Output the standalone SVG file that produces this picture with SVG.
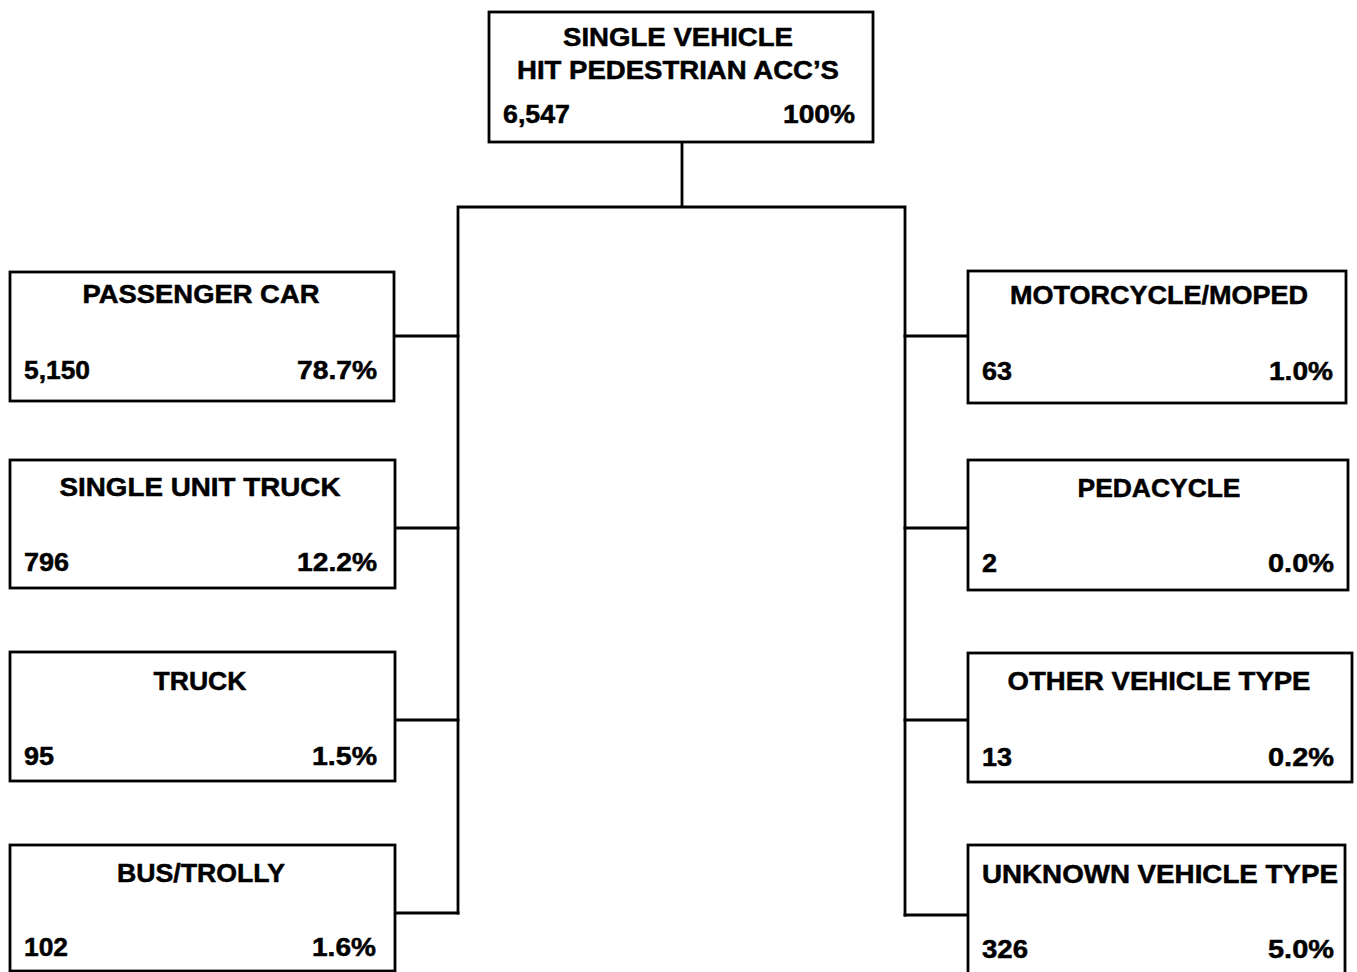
<svg xmlns="http://www.w3.org/2000/svg" width="1357" height="972" viewBox="0 0 1357 972">
<style>
.box{fill:#fff;stroke:#000;stroke-width:2.8}
.ln{fill:none;stroke:#000;stroke-width:2.8;stroke-linejoin:miter;stroke-linecap:square}
text{font-family:"Liberation Sans",Arial,sans-serif;font-weight:bold;font-size:25px;fill:#000;stroke:#000;stroke-width:0.5}
.c{text-anchor:middle}
.r{text-anchor:end}
</style>
<rect width="1357" height="972" fill="#fff"/>
<g id="connectors">
<path class="ln" d="M682 142 V207 M458 207 H905 M458 207 V913 M905 207 V915"/>
<path class="ln" d="M394 336 H458 M394 528 H458 M394 720 H458 M394 913 H458"/>
<path class="ln" d="M905 336 H968 M905 528 H968 M905 720 H968 M905 915 H968"/>
</g>
<g id="root">
<rect class="box" x="489" y="12" width="384" height="130"/>
<text class="c" x="678" y="46" textLength="230" lengthAdjust="spacingAndGlyphs">SINGLE VEHICLE</text>
<text class="c" x="678" y="79" textLength="322" lengthAdjust="spacingAndGlyphs">HIT PEDESTRIAN ACC’S</text>
<text x="503" y="123" textLength="67" lengthAdjust="spacingAndGlyphs">6,547</text>
<text x="783" y="123" textLength="72" lengthAdjust="spacingAndGlyphs">100%</text>
</g>
<g id="passenger-car">
<rect class="box" x="10" y="272" width="384" height="129"/>
<text class="c" x="201" y="303" textLength="237" lengthAdjust="spacingAndGlyphs">PASSENGER CAR</text>
<text x="24" y="379" textLength="66" lengthAdjust="spacingAndGlyphs">5,150</text>
<text x="297" y="379" textLength="80" lengthAdjust="spacingAndGlyphs">78.7%</text>
</g>
<g id="single-unit-truck">
<rect class="box" x="10" y="460" width="385" height="128"/>
<text class="c" x="200" y="496" textLength="281" lengthAdjust="spacingAndGlyphs">SINGLE UNIT TRUCK</text>
<text x="24" y="571" textLength="45" lengthAdjust="spacingAndGlyphs">796</text>
<text x="297" y="571" textLength="80" lengthAdjust="spacingAndGlyphs">12.2%</text>
</g>
<g id="truck">
<rect class="box" x="10" y="652" width="385" height="129"/>
<text class="c" x="200" y="690" textLength="93" lengthAdjust="spacingAndGlyphs">TRUCK</text>
<text x="24" y="765" textLength="30" lengthAdjust="spacingAndGlyphs">95</text>
<text x="312" y="765" textLength="65" lengthAdjust="spacingAndGlyphs">1.5%</text>
</g>
<g id="bus-trolly">
<rect class="box" x="10" y="845" width="385" height="126"/>
<text class="c" x="201" y="882" textLength="168" lengthAdjust="spacingAndGlyphs">BUS/TROLLY</text>
<text x="24" y="956" textLength="44" lengthAdjust="spacingAndGlyphs">102</text>
<text x="312" y="956" textLength="64" lengthAdjust="spacingAndGlyphs">1.6%</text>
</g>
<g id="motorcycle-moped">
<rect class="box" x="968" y="271" width="378" height="132"/>
<text class="c" x="1159" y="304" textLength="298" lengthAdjust="spacingAndGlyphs">MOTORCYCLE/MOPED</text>
<text x="982" y="380" textLength="30" lengthAdjust="spacingAndGlyphs">63</text>
<text x="1269" y="380" textLength="64" lengthAdjust="spacingAndGlyphs">1.0%</text>
</g>
<g id="pedacycle">
<rect class="box" x="968" y="460" width="380" height="130"/>
<text class="c" x="1159" y="497" textLength="163" lengthAdjust="spacingAndGlyphs">PEDACYCLE</text>
<text x="982" y="572" textLength="15" lengthAdjust="spacingAndGlyphs">2</text>
<text x="1268" y="572" textLength="66" lengthAdjust="spacingAndGlyphs">0.0%</text>
</g>
<g id="other-vehicle-type">
<rect class="box" x="968" y="653" width="384" height="129"/>
<text class="c" x="1159" y="690" textLength="303" lengthAdjust="spacingAndGlyphs">OTHER VEHICLE TYPE</text>
<text x="982" y="766" textLength="30" lengthAdjust="spacingAndGlyphs">13</text>
<text x="1268" y="766" textLength="66" lengthAdjust="spacingAndGlyphs">0.2%</text>
</g>
<g id="unknown-vehicle-type">
<rect class="box" x="968" y="845" width="377" height="132"/>
<text class="c" x="1160" y="883" textLength="356" lengthAdjust="spacingAndGlyphs">UNKNOWN VEHICLE TYPE</text>
<text x="982" y="958" textLength="46" lengthAdjust="spacingAndGlyphs">326</text>
<text x="1268" y="958" textLength="66" lengthAdjust="spacingAndGlyphs">5.0%</text>
</g>
</svg>
